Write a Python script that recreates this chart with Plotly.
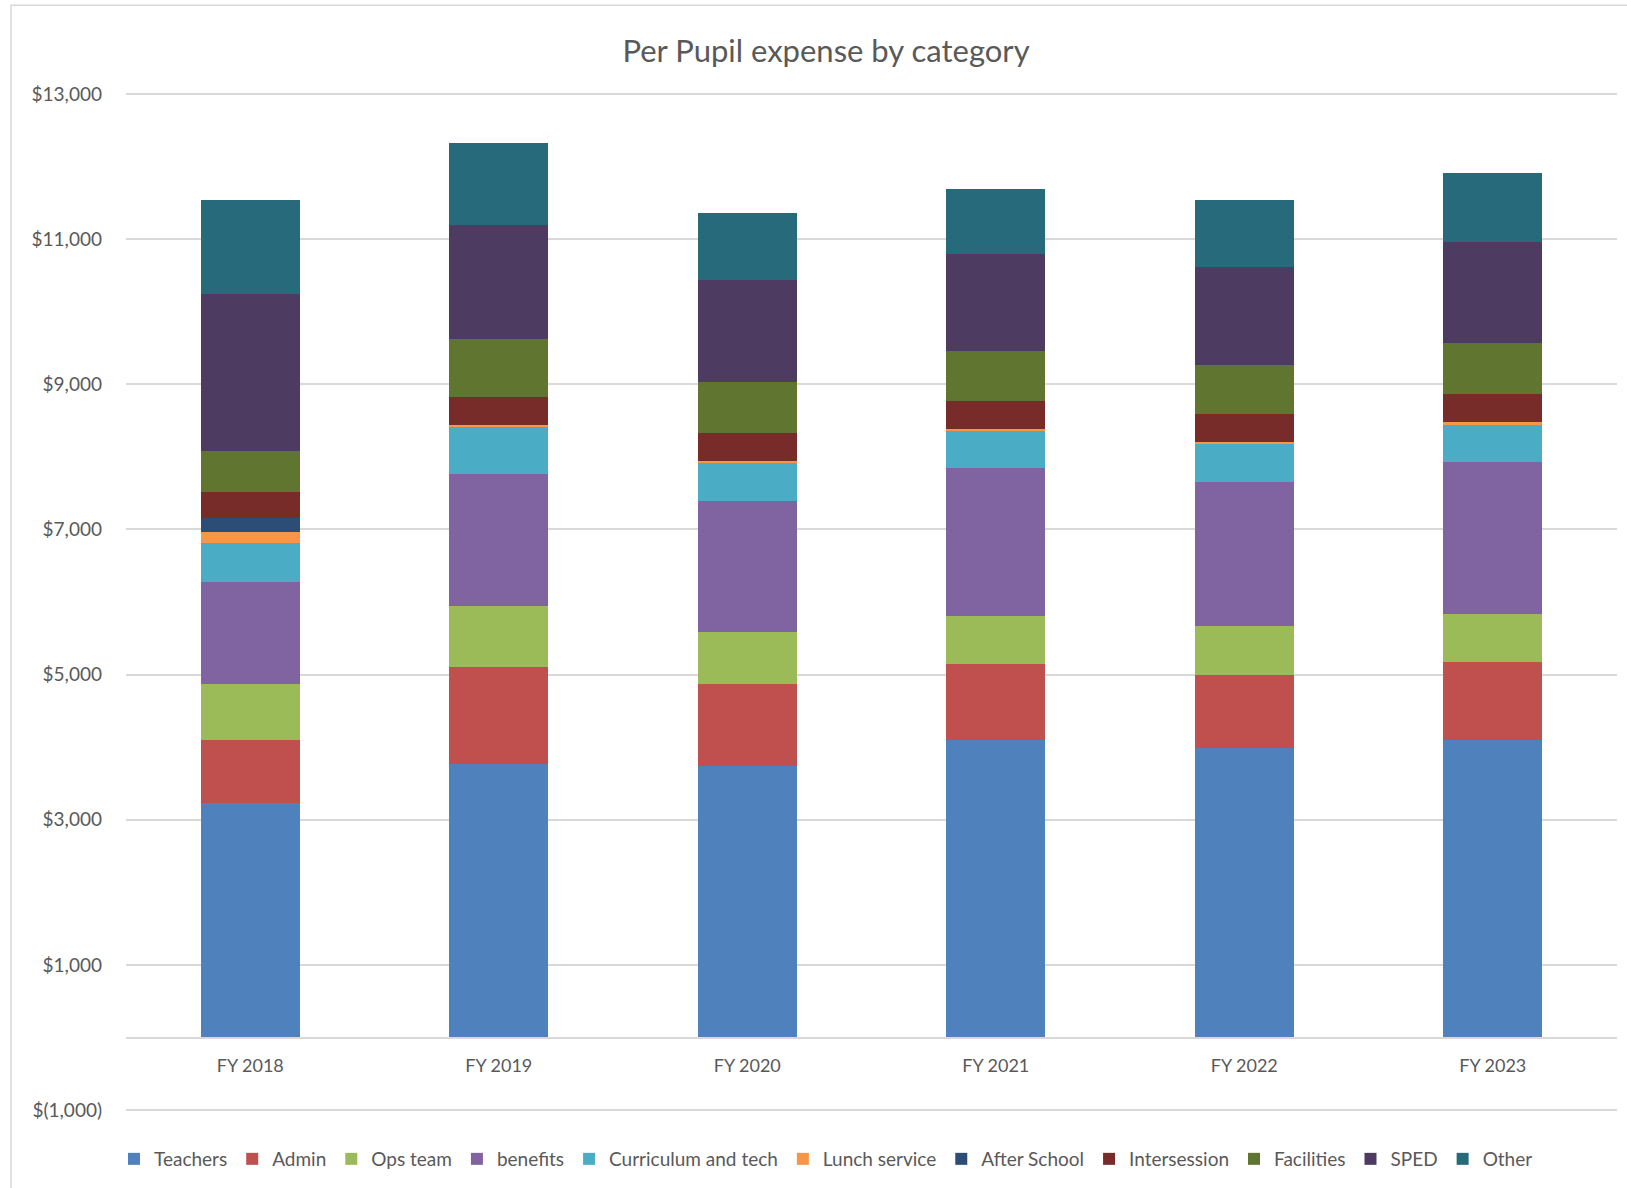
import plotly.graph_objects as go

years = ["FY 2018", "FY 2019", "FY 2020", "FY 2021", "FY 2022", "FY 2023"]

teachers = [3230, 3770, 3740, 4100, 3990, 4100]
admin = [870, 1330, 1130, 1040, 1010, 1070]
ops_team = [770, 840, 715, 670, 670, 660]
benefits = [1410, 1830, 1800, 2030, 1985, 2100]
curriculum = [530, 640, 530, 515, 515, 515]
lunch = [155, 30, 30, 30, 30, 40]
after_school = [190, 0, 0, 0, 0, 0]
intersession = [355, 390, 385, 385, 385, 385]
facilities = [575, 800, 700, 685, 685, 700]
sped = [2160, 1570, 1400, 1345, 1345, 1385]
other = [1300, 1130, 930, 885, 930, 960]

series_names = ["Teachers", "Admin", "Ops team", "benefits", "Curriculum and tech",
                "Lunch service", "After School", "Intersession", "Facilities", "SPED", "Other"]
series_values = [teachers, admin, ops_team, benefits, curriculum, lunch,
                 after_school, intersession, facilities, sped, other]
colors = ["#4F81BD", "#C0504D", "#9BBB59", "#8064A2", "#4BACC6", "#F79646",
          "#2C4D75", "#772C2A", "#5F7530", "#4D3B62", "#276A7C"]

tick_vals = [-1000, 1000, 3000, 5000, 7000, 9000, 11000, 13000]
tick_text = ["$(1,000)", "$1,000", "$3,000", "$5,000", "$7,000", "$9,000", "$11,000", "$13,000"]

FONT = "Lato"
GREY = "#595959"

fig = go.Figure()
for name, vals, col in zip(series_names, series_values, colors):
    fig.add_trace(go.Bar(x=years, y=vals, name=name,
                         marker=dict(color=col, line=dict(width=0))))

y_lo, y_hi = -1040, 13040
span = y_hi - y_lo

fig.update_layout(
    barmode="stack",
    bargap=0.6,
    width=1627, height=1188,
    margin=dict(l=126, r=10, t=91, b=73),
    paper_bgcolor="white", plot_bgcolor="white",
    font=dict(family=FONT, color=GREY, size=18),
    title=dict(text="Per Pupil expense by category", x=0.4695, xref="paper",
               xanchor="center", y=1 - 51 / 1188, yref="container", yanchor="middle",
               font=dict(family=FONT, size=31, color=GREY)),
    legend=dict(orientation="h", x=0.4695, xanchor="center", y=-0.045,
                yanchor="middle", font=dict(family=FONT, size=19, color=GREY),
                traceorder="normal", itemwidth=30),
    showlegend=True,
)

fig.update_yaxes(range=[y_lo, y_hi], tickvals=tick_vals, ticktext=tick_text,
                 showgrid=True, gridcolor="#d9d9d9", gridwidth=1.5,
                 zeroline=False, showline=False, ticks="", ticklen=0,
                 tickfont=dict(size=19, color=GREY), ticklabelstandoff=23)
fig.update_xaxes(anchor="free", position=(0 - y_lo) / span, showline=True,
                 linecolor="#d9d9d9", linewidth=1.5, ticks="", showgrid=False,
                 tickfont=dict(size=18, color=GREY), ticklabelstandoff=12)

fig.add_shape(type="rect", xref="paper", yref="paper",
              x0=-0.0771, x1=1.02, y0=-0.1, y1=1.084,
              line=dict(color="#d9d9d9", width=1.5), fillcolor="rgba(0,0,0,0)",
              layer="below")

fig.write_html("out.html")
